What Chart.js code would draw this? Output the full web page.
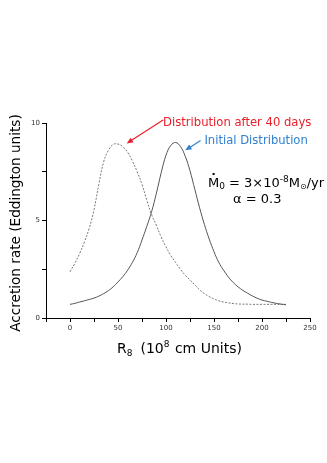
<!DOCTYPE html>
<html>
<head>
<meta charset="utf-8">
<script src="https://cdn.jsdelivr.net/npm/chart.js@4.4.0/dist/chart.umd.min.js"></script>
<style>
  html, body { margin: 0; padding: 0; background: #fff; }
  #wrap { width: 327px; height: 463px; position: relative; }
</style>
</head>
<body>
<div id="wrap"><canvas id="c"></canvas></div>
<script>
// radius R8 (10^8 cm) where both curves are sampled
const radius = [0, 5, 10, 15, 20, 25, 30, 35, 40, 45, 50, 55, 60, 65, 70, 75, 80, 85, 90, 95,
  100, 105, 110, 115, 120, 125, 130, 135, 140, 145, 150, 155, 160, 165, 170, 175, 180, 185,
  190, 195, 200, 205, 210, 215, 220, 225];

// initial distribution (solid)
const initialRate = [0.70, 0.75, 0.82, 0.88, 0.95, 1.02, 1.12, 1.25, 1.40, 1.60, 1.85, 2.12,
  2.45, 2.85, 3.35, 4.00, 4.70, 5.45, 6.40, 7.45, 8.35, 8.85, 9.00, 8.80, 8.30, 7.55, 6.60,
  5.65, 4.80, 4.05, 3.40, 2.85, 2.45, 2.10, 1.82, 1.60, 1.42, 1.27, 1.13, 1.01, 0.92, 0.86,
  0.80, 0.75, 0.71, 0.68];

// distribution after 40 days (dotted)
const after40Rate = [2.37, 2.80, 3.30, 3.90, 4.60, 5.55, 6.85, 8.00, 8.60, 8.90, 8.92, 8.78,
  8.50, 8.05, 7.50, 6.85, 6.05, 5.30, 4.75, 4.15, 3.65, 3.20, 2.85, 2.50, 2.20, 1.95, 1.70,
  1.45, 1.25, 1.10, 0.98, 0.88, 0.82, 0.78, 0.74, 0.72, 0.71, 0.71, 0.70, 0.70, 0.70, 0.70,
  0.70, 0.70, 0.70, 0.70];

const xTicks = [0, 50, 100, 150, 200, 250];
const yTicks = [0, 5, 10];

const FONT = '"DejaVu Sans", sans-serif';

const pts = (ys) => radius.map((x, i) => ({ x: x, y: ys[i] }));

// titles + annotations
const overlay = {
  id: 'overlay',
  afterDraw(chart) {
    const ctx = chart.ctx;
    const xs = chart.scales.x, ys = chart.scales.y;
    const px = v => xs.getPixelForValue(v);
    const py = v => ys.getPixelForValue(v);
    ctx.save();

    // axis titles
    ctx.fillStyle = '#000';
    ctx.font = '14px ' + FONT;
    ctx.textBaseline = 'alphabetic';
    ctx.textAlign = 'left';
    let x0 = 117, yb = 353;
    ctx.fillText('R', x0, yb);
    let w = ctx.measureText('R').width;
    ctx.font = '9px ' + FONT;
    ctx.fillText('8', x0 + w, yb + 3);
    w += ctx.measureText('8').width + 8;
    ctx.font = '14px ' + FONT;
    ctx.fillText('(10', x0 + w, yb);
    w += ctx.measureText('(10').width;
    ctx.font = '9px ' + FONT;
    ctx.fillText('8', x0 + w, yb - 6);
    w += ctx.measureText('8').width + 1;
    ctx.font = '14px ' + FONT;
    ctx.fillText(' cm Units)', x0 + w, yb);

    ctx.save();
    ctx.translate(20, 223);
    ctx.rotate(-Math.PI / 2);
    ctx.textAlign = 'center';
    ctx.font = '13.6px ' + FONT;
    ctx.fillText('Accretion rate (Eddington units)', 0, 0);
    ctx.restore();

    // red label + arrow
    ctx.font = '11.6px ' + FONT;
    ctx.textAlign = 'left';
    ctx.fillStyle = '#e8202a';
    ctx.fillText('Distribution after 40 days', px(97), py(9.85));
    arrow(ctx, px(97), py(10.15), px(59), py(8.95), '#e8202a');

    // blue label + arrow
    ctx.fillStyle = '#2f80d0';
    ctx.fillText('Initial Distribution', px(140), py(8.9));
    arrow(ctx, px(136), py(9.1), px(120), py(8.6), '#2f80d0');

    // formula
    ctx.fillStyle = '#000';
    ctx.font = '13px ' + FONT;
    let fx = 208, fy = 187;
    ctx.fillText('M', fx, fy);
    let mw = ctx.measureText('M').width;
    ctx.fillRect(fx + mw / 2 - 1, fy - 14, 2, 2);
    ctx.font = '9px ' + FONT;
    ctx.fillText('0', fx + mw, fy + 2);
    let cx = fx + mw + ctx.measureText('0').width;
    ctx.font = '13px ' + FONT;
    ctx.fillText(' = 3\u00d710', cx, fy);
    cx += ctx.measureText(' = 3\u00d710').width;
    ctx.font = '9px ' + FONT;
    ctx.fillText('-8', cx, fy - 5);
    cx += ctx.measureText('-8').width;
    ctx.font = '13px ' + FONT;
    ctx.fillText('M', cx, fy);
    cx += ctx.measureText('M').width;
    ctx.font = '8px ' + FONT;
    ctx.fillText('\u2299', cx, fy + 2);
    cx += ctx.measureText('\u2299').width;
    ctx.font = '13px ' + FONT;
    ctx.fillText('/yr', cx, fy);

    ctx.fillText('\u03b1 = 0.3', 233, 203);
    ctx.restore();
  }
};

function arrow(ctx, x1, y1, x2, y2, col) {
  const a = Math.atan2(y2 - y1, x2 - x1);
  ctx.save();
  ctx.strokeStyle = col;
  ctx.fillStyle = col;
  ctx.lineWidth = 1.2;
  ctx.beginPath();
  ctx.moveTo(x1, y1);
  ctx.lineTo(x2 - 4 * Math.cos(a), y2 - 4 * Math.sin(a));
  ctx.stroke();
  ctx.beginPath();
  ctx.moveTo(x2, y2);
  ctx.lineTo(x2 - 7 * Math.cos(a - 0.4), y2 - 7 * Math.sin(a - 0.4));
  ctx.lineTo(x2 - 7 * Math.cos(a + 0.4), y2 - 7 * Math.sin(a + 0.4));
  ctx.closePath();
  ctx.fill();
  ctx.restore();
}

new Chart(document.getElementById('c'), {
  type: 'line',
  data: {
    datasets: [
      {
        label: 'Initial Distribution',
        data: pts(initialRate),
        borderColor: '#555',
        borderWidth: 1,
        pointRadius: 0,
        tension: 0.4
      },
      {
        label: 'Distribution after 40 days',
        data: pts(after40Rate),
        borderColor: '#777',
        borderWidth: 1,
        borderDash: [2, 1.5],
        pointRadius: 0,
        tension: 0.4
      }
    ]
  },
  options: {
    responsive: true,
    maintainAspectRatio: false,
    animation: false,
    layout: { padding: { top: 123, right: 17, bottom: 125, left: 0 } },
    plugins: { legend: { display: false }, tooltip: { enabled: false } },
    scales: {
      x: {
        type: 'linear',
        min: -25,
        max: 250,
        afterFit: s => { s.height = 20; },
        border: { color: '#000', width: 1 },
        grid: { drawOnChartArea: false, tickLength: 4, color: '#000' },
        ticks: {
          stepSize: 25,
          autoSkip: false,
          maxRotation: 0,
          padding: 2,
          color: '#333',
          font: { size: 7, family: FONT },
          callback: v => xTicks.includes(v) ? String(v) : ''
        }
      },
      y: {
        min: 0,
        max: 10,
        afterFit: s => { s.width = 46; },
        border: { color: '#000', width: 1 },
        grid: { drawOnChartArea: false, tickLength: 4, color: '#000' },
        ticks: {
          stepSize: 2.5,
          autoSkip: false,
          padding: 2,
          color: '#333',
          font: { size: 7, family: FONT },
          callback: v => yTicks.includes(v) ? String(v) : ''
        }
      }
    }
  },
  plugins: [overlay]
});
</script>
</body>
</html>
